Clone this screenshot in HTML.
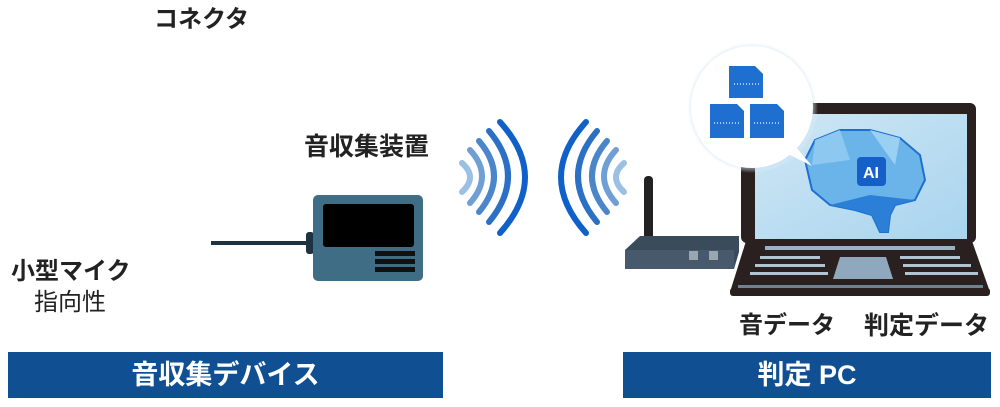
<!DOCTYPE html>
<html><head><meta charset="utf-8"><style>
body{margin:0;width:1000px;height:407px;background:#fff;position:relative;overflow:hidden;font-family:"Liberation Sans","Noto Sans CJK JP",sans-serif;color:#222}
.t{position:absolute;font-weight:bold;white-space:nowrap;line-height:1}
.bar{position:absolute;top:352px;height:46px;background:#0f4f92;color:#fff;font-size:27px;font-weight:bold;text-align:center;line-height:46px}
</style></head><body>
<div class="t" style="left:154px;top:8px;font-size:24px">コネクタ</div>
<div class="t" style="left:304px;top:135px;font-size:25px">音収集装置</div>
<div class="t" style="left:11px;top:260px;font-size:24px">小型マイク</div>
<div class="t" style="left:34px;top:291px;font-size:24px;font-weight:normal">指向性</div>
<div class="t" style="left:739px;top:314px;font-size:24px">音データ</div>
<div class="t" style="left:864px;top:314px;font-size:25px">判定データ</div>
<div class="bar" style="left:8px;width:435px">音収集デバイス</div>
<div class="bar" style="left:623px;width:368px">判定 PC</div>
<svg width="1000" height="407" style="position:absolute;left:0;top:0">
<defs><radialGradient id="sh"><stop offset="85%" stop-color="#9fc6e6"/><stop offset="100%" stop-color="#fff" stop-opacity="0"/></radialGradient>
<linearGradient id="scr" x1="0" y1="0" x2="1" y2="1"><stop offset="0" stop-color="#cfe7f5"/><stop offset="1" stop-color="#a9d4ee"/></linearGradient></defs>
<rect x="211" y="241" width="98" height="4" fill="#1e3342"/>
<rect x="306" y="232" width="8" height="22" rx="3" fill="#1e3342"/>
<rect x="313" y="195" width="110" height="86" rx="5" fill="#3f6d86"/>
<rect x="323" y="204" width="91" height="43" rx="3" fill="#000"/>
<rect x="375" y="251" width="40" height="5" fill="#111"/>
<rect x="375" y="259" width="40" height="5" fill="#111"/>
<rect x="375" y="267" width="40" height="5" fill="#111"/>
<g fill="none" stroke-linecap="round" stroke-width="6">
<path d="M462 163 Q478 177 462 192" stroke="#9cc0e3"/>
<path d="M470 150 Q494 176 470 203" stroke="#6f9fd4"/>
<path d="M479 141 Q509 176 479 212" stroke="#4a86c9"/>
<path d="M489 131 Q527 176 489 222" stroke="#2b70c4"/>
<path d="M500 122 Q550 177 500 233" stroke="#0f60c8"/>
<path d="M624 163 Q608 177 624 192" stroke="#9cc0e3"/>
<path d="M616 150 Q592 176 616 203" stroke="#6f9fd4"/>
<path d="M607 141 Q577 176 607 212" stroke="#4a86c9"/>
<path d="M597 131 Q559 176 597 222" stroke="#2b70c4"/>
<path d="M586 122 Q536 177 586 233" stroke="#0f60c8"/>
</g>
<rect x="644" y="176" width="9" height="70" rx="4" fill="#222"/>
<polygon points="625,250 640,236 739,236 739,252 734,269 625,269" fill="#3a4c5c"/>
<rect x="625" y="250" width="109" height="19" fill="#475a6b"/>
<rect x="689" y="251" width="9" height="9" fill="#9aa6b0"/><rect x="709" y="251" width="9" height="9" fill="#9aa6b0"/>
<rect x="741" y="103" width="235" height="140" rx="6" fill="#2a2020"/>
<rect x="755" y="114" width="212" height="125" fill="url(#scr)"/>
<polygon points="746,241 972,241 990,292 730,292" fill="#2a2020"/>
<rect x="730" y="288" width="260" height="8" rx="3" fill="#2a2020"/>
<rect x="765" y="246" width="190" height="4" fill="#9ab0c4"/>
<polygon points="840,257 886,257 893,279 833,279" fill="#8fa8bd"/>
<g fill="#b0c4d4">
<rect x="760" y="256" width="60" height="3"/><rect x="755" y="264" width="70" height="3"/><rect x="750" y="272" width="78" height="3"/>
<rect x="900" y="256" width="60" height="3"/><rect x="903" y="264" width="68" height="3"/><rect x="905" y="272" width="73" height="3"/>
</g>
<rect x="738" y="285" width="245" height="3" fill="#6f8294"/>
<polygon points="805,160 815,140 840,130 870,130 900,138 920,155 925,180 915,200 895,205 890,215 888,232 880,232 872,215 855,210 830,205 812,190" fill="#6ab4ea" stroke="#1f6fd0" stroke-width="2"/>
<polygon points="830,205 855,210 872,215 880,232 888,232 890,215 895,205 915,200 870,195" fill="#2b7fd6"/>
<polygon points="815,140 840,130 850,160 812,165" fill="#8cc8f0"/>
<polygon points="870,130 900,138 895,165" fill="#9ad0f2"/>
<rect x="857" y="157" width="29" height="29" rx="4" fill="#1560c8"/>
<text x="871" y="178" font-size="16" font-weight="bold" fill="#fff" text-anchor="middle" font-family="Liberation Sans">AI</text>
<circle cx="752" cy="107" r="66" fill="url(#sh)"/>
<circle cx="752" cy="107" r="61" fill="#fff"/>
<polygon points="790,140 812,166 780,150" fill="#fff"/>
<g fill="#1e6fd0">
<path d="M729 66 h26 l8 8 v24 h-34z"/>
<path d="M710 104 h27 l7 7 v27 h-34z"/>
<path d="M750 104 h27 l7 7 v27 h-34z"/>
</g>
<g stroke="#fff" stroke-width="1.2" stroke-dasharray="1 2">
<line x1="734" y1="84" x2="760" y2="84"/><line x1="714" y1="123" x2="741" y2="123"/><line x1="754" y1="123" x2="781" y2="123"/>
</g>
</svg>
</body></html>
